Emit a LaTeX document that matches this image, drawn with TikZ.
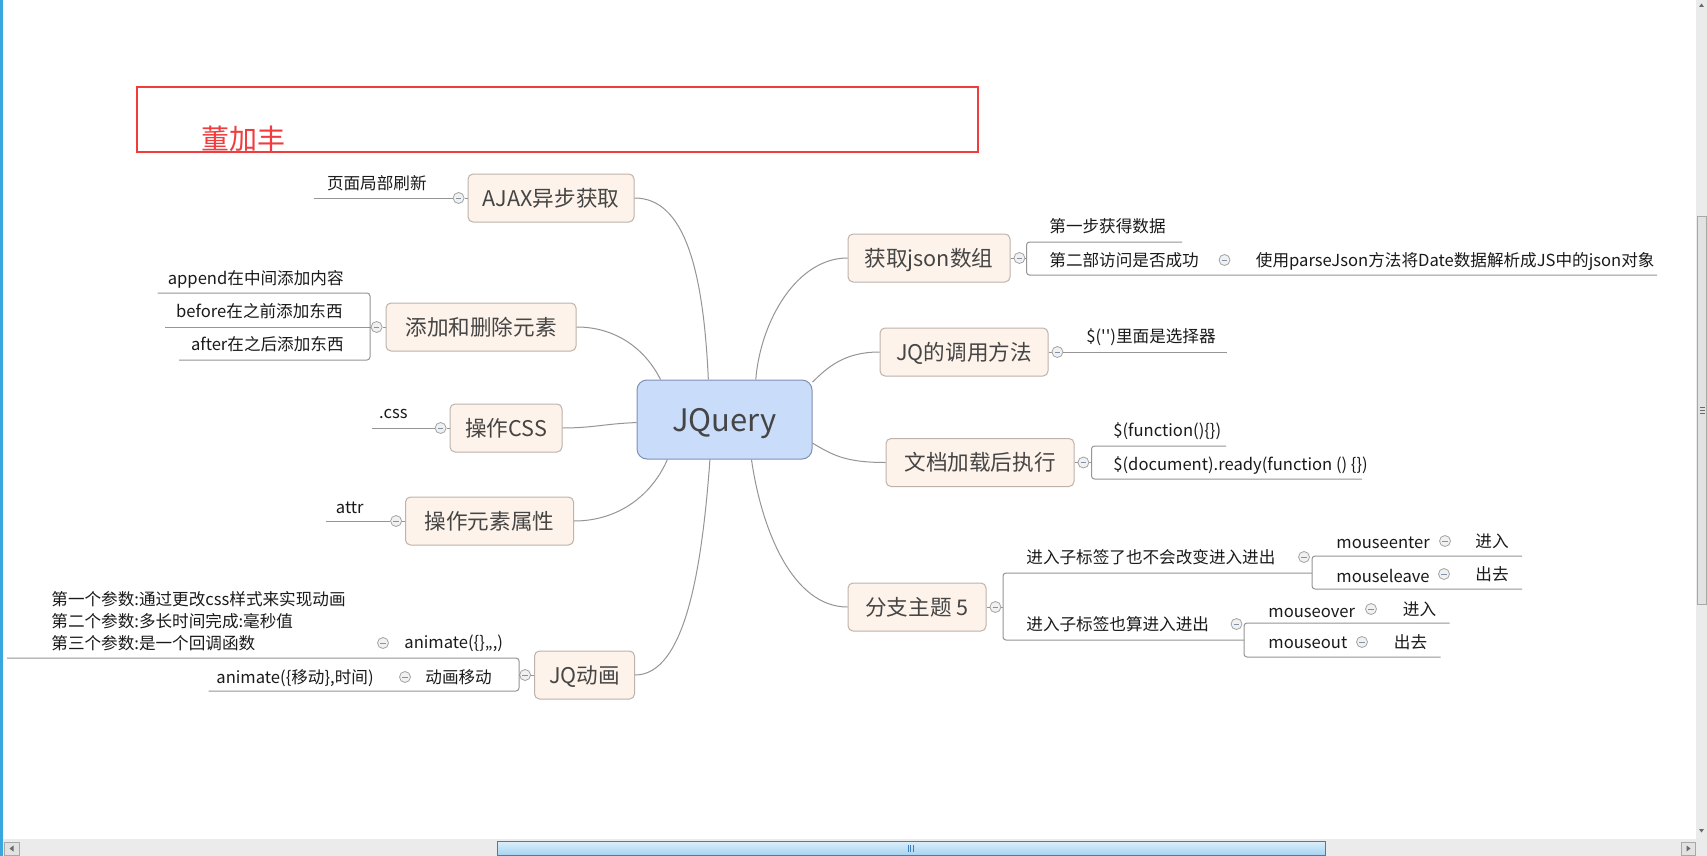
\documentclass[tikz,border=0pt]{standalone}
\usepackage{fontspec}
\setmainfont{Noto Sans CJK SC}
\usetikzlibrary{positioning,calc}
\definecolor{tfill}{HTML}{FDF3EA}
\definecolor{tdraw}{HTML}{BDB3AA}
\definecolor{tink}{HTML}{454545}
\definecolor{rfill}{HTML}{C9DCFA}
\definecolor{rdraw}{HTML}{7F90B2}
\definecolor{ink}{HTML}{1A1A1A}
\definecolor{lgray}{HTML}{959595}
\definecolor{fgray}{HTML}{A3A3A3}
\definecolor{ffill}{HTML}{F1F1F1}
\definecolor{fmin}{HTML}{8391AB}
\definecolor{redbox}{HTML}{F03C3C}
\definecolor{winblue}{HTML}{3AA6DF}
\definecolor{barbg}{HTML}{EBEBEB}
\definecolor{thumbtop}{HTML}{DCEFFB}
\definecolor{thumbbot}{HTML}{A6D4F0}
\definecolor{thumbdraw}{HTML}{3D7FB8}
\definecolor{btnline}{HTML}{A8A8A8}
\definecolor{btnfill}{HTML}{E2E2E2}
\definecolor{arrowc}{HTML}{6A6A6A}
\tikzset{
  topic/.style={draw=tdraw,fill=tfill,rounded corners=2.5pt,line width=0.5pt,text=tink,font=\fontsize{10.8}{13}\selectfont,inner sep=0pt,minimum height=24pt,text height=9.5pt,text depth=1.3pt},
  root/.style={topic,draw=rdraw,fill=rfill,rounded corners=5pt,font=\fontsize{15.5}{18}\selectfont,minimum width=87.5pt,minimum height=39.5pt,text height=13pt,text depth=1.5pt},
  leaf/.style={text=ink,font=\fontsize{8.3}{11}\selectfont,inner sep=0pt,text height=7.3pt,text depth=1pt},
  fold/.style={circle,draw=fgray,fill=ffill,line width=0.4pt,inner sep=0pt,minimum size=5.5pt,
    path picture={\draw[fmin,line width=0.4pt] ([xshift=-1.4pt]path picture bounding box.center) -- ([xshift=1.4pt]path picture bounding box.center);}},
  con/.style={draw=lgray,line width=0.5pt},
  ln/.style={con,rounded corners=1.5pt},
  btn/.style={draw=btnline,fill=btnfill,line width=0.4pt},
}
\begin{document}
\begin{tikzpicture}[x=0.5pt,y=-0.5pt]
\useasboundingbox (0,0) rectangle (1707,856);
\fill[white] (0,0) rectangle (1707,856);
\fill[winblue] (0,0) rectangle (3,856);
\fill[barbg] (3,839) rectangle (1707,856);
\fill[barbg] (1696,0) rectangle (1707,839);
\draw[thumbdraw,top color=thumbtop,bottom color=thumbbot,line width=0.5pt] (497.5,841) rectangle (1325,855);
\foreach \x in {908,910.5,913} \draw[thumbdraw,line width=0.4pt] (\x,845) -- (\x,852);
\draw[btn] (4,842) rectangle (19,855);
\draw[btn] (1681,842) rectangle (1695,855);
\fill[arrowc] (13.5,845.5) -- (9.5,848.5) -- (13.5,851.5) -- cycle;
\fill[arrowc] (1686.5,845.5) -- (1690.5,848.5) -- (1686.5,851.5) -- cycle;
\draw[btn] (1697.5,216) rectangle (1706.5,604);
\foreach \y in {407,410,413} \draw[arrowc,line width=0.4pt] (1700,\y) -- (1705,\y);
\fill[arrowc] (1699,7) -- (1704,7) -- (1701.5,3.5) -- cycle;
\fill[arrowc] (1699,829) -- (1704,829) -- (1701.5,832.5) -- cycle;

\draw[redbox,line width=0.6pt] (137,87) rectangle (978,152);
\node[text=redbox,font=\fontsize{14}{16}\selectfont,inner sep=0pt] (author) at (243,139) {董加丰};

\node[root] (jq) at (724.5,419.5) {JQuery};
\node[topic,minimum width=83pt] (ajax) at (551,198) {AJAX异步获取};
\node[topic,minimum width=95pt] (add) at (481,327) {添加和删除元素};
\node[topic,minimum width=56pt] (css) at (506,428) {操作CSS};
\node[topic,minimum width=84pt] (attr) at (489.5,521) {操作元素属性};
\node[topic,minimum width=50pt] (anim) at (584.5,675) {JQ动画};
\node[topic,minimum width=81pt] (json) at (929,258) {获取json数组};
\node[topic,minimum width=84pt] (call) at (964,352) {JQ的调用方法};
\node[topic,minimum width=94pt] (ready) at (980,462.5) {文档加载后执行};
\node[topic,minimum width=69pt] (br5) at (917,607) {分支主题 5};

\node[fold,left=1.5pt of ajax] (fajax) {};
\node[fold,left=1.5pt of add] (fadd) {};
\node[fold,left=1.5pt of css] (fcss) {};
\node[fold,left=1.5pt of attr] (fattr) {};
\node[fold,left=1.5pt of anim] (fanim) {};
\node[fold,right=1.5pt of json] (fjson) {};
\node[fold,right=1.5pt of call] (fcall) {};
\node[fold,right=1.5pt of ready] (fready) {};
\node[fold,right=1.5pt of br5] (fbr5) {};
\node[fold] (fanim1) at (383,643) {};
\node[fold] (fanim2) at (405,677) {};
\node[fold] (fjson2) at (1224.5,260) {};
\node[fold] (fb1) at (1304,557) {};
\node[fold] (fb1a) at (1445,541) {};
\node[fold] (fb1b) at (1444,574) {};
\node[fold] (fb2) at (1236.5,624) {};
\node[fold] (fb2a) at (1371,609) {};
\node[fold] (fb2b) at (1362,642) {};

\node[leaf,anchor=east] (ajax1) at (427,183) {页面局部刷新};
\node[leaf,anchor=east] (add1) at (344,278) {append在中间添加内容};
\node[leaf,anchor=east] (add2) at (343,311) {before在之前添加东西};
\node[leaf,anchor=east] (add3) at (344,344) {after在之后添加东西};
\node[leaf,anchor=east] (css1) at (408,412) {.css};
\node[leaf,anchor=east] (attr1) at (364,507) {attr};
\node[leaf,anchor=west] (anim1) at (404,642) {animate(\{\},,,)};
\node[leaf,anchor=west,align=left,text height=,text depth=] (anim1a) at (51,621) {第一个参数:通过更改css样式来实现动画\\第二个参数:多长时间完成:毫秒值\\第三个参数:是一个回调函数};
\node[leaf,anchor=west] (anim2) at (425,677) {动画移动};
\node[leaf,anchor=east] (anim2a) at (374,677) {animate(\{移动\},时间)};
\node[leaf,anchor=west] (json1) at (1049,226) {第一步获得数据};
\node[leaf,anchor=west] (json2) at (1049,260) {第二部访问是否成功};
\node[leaf,anchor=west] (json2a) at (1255.5,260) {使用parseJson方法将Date数据解析成JS中的json对象};
\node[leaf,anchor=west] (call1) at (1086,336) {\$(\textquotesingle\textquotesingle)里面是选择器};
\node[leaf,anchor=west] (ready1) at (1113,430) {\$(function()\{\})};
\node[leaf,anchor=west] (ready2) at (1113,464) {\$(document).ready(function () \{\})};
\node[leaf,anchor=west] (b1) at (1026,557) {进入子标签了也不会改变进入进出};
\node[leaf,anchor=west] (b1a) at (1336,541.7) {mouseenter};
\node[leaf,anchor=west] (b1ax) at (1475,541) {进入};
\node[leaf,anchor=west] (b1b) at (1336,575.7) {mouseleave};
\node[leaf,anchor=west] (b1bx) at (1475,574) {出去};
\node[leaf,anchor=west] (b2) at (1026,624) {进入子标签也算进入进出};
\node[leaf,anchor=west] (b2a) at (1268,610.7) {mouseover};
\node[leaf,anchor=west] (b2ax) at (1402.5,609) {进入};
\node[leaf,anchor=west] (b2b) at (1268,641.7) {mouseout};
\node[leaf,anchor=west] (b2bx) at (1393.5,642) {出去};

\draw[con] (jq.112.7) .. controls +(-5,-110) and +(50,0) .. (ajax.east);
\draw[con] (jq.148.5) .. controls +(-15,-30) and +(40,0) .. (add.east);
\draw[con] (jq.182.3) .. controls +(-30,1) and +(30,0) .. (css.east);
\draw[con] (jq.-145.5) .. controls +(-15,35) and +(45,0) .. (attr.east);
\draw[con] (jq.-110.2) .. controls +(-8,110) and +(50,0) .. (anim.east);
\draw[con] (jq.52.3) .. controls +(5,-60) and +(-50,0) .. (json.west);
\draw[con] (jq.23.2) .. controls +(15,-15) and +(-35,0) .. (call.west);
\draw[con] (jq.-15) .. controls +(20,12) and +(-40,0) .. (ready.west);
\draw[con] (jq.-56.1) .. controls +(10,70) and +(-55,0) .. (br5.west);

\coordinate (ajax1u) at (314,198);
\coordinate (add1u) at (157.5,293);
\coordinate (add2u) at (165,327);
\coordinate (add3u) at (179,360);
\coordinate (addk) at (370,327);
\coordinate (css1u) at (372,428);
\coordinate (attr1u) at (326,521);
\coordinate (anim1u) at (7,658);
\coordinate (anim2u) at (208.5,691);
\coordinate (animk) at (519,675);
\coordinate (json1u) at (1182,242);
\coordinate (json2u) at (1657,275);
\coordinate (jsonk) at (1026.5,258);
\coordinate (call1u) at (1227,352);
\coordinate (ready1u) at (1226,446);
\coordinate (ready2u) at (1362,479);
\coordinate (readyk) at (1091.5,462.5);
\coordinate (br5k) at (1003,607);
\coordinate (b1k) at (1312,573);
\coordinate (b2k) at (1244,640);
\coordinate (b1au) at (1522,556);
\coordinate (b1bu) at (1522,589);
\coordinate (b2au) at (1449.5,623);
\coordinate (b2bu) at (1440.5,657);

\draw[ln] (ajax) -- (fajax) -- (ajax1u);
\draw[ln] (add) -- (fadd) -- (add2u);
\draw[ln] (add1u) -- (add1u -| addk) -- (add3u -| addk) -- (add3u);
\draw[ln] (css) -- (fcss) -- (css1u);
\draw[ln] (attr) -- (fattr) -- (attr1u);
\draw[ln] (anim) -- (fanim) -- (animk);
\draw[ln] (anim1u) -- (anim1u -| animk) -- (anim2u -| animk) -- (anim2u);
\draw[ln] (json) -- (fjson) -- (jsonk);
\draw[ln] (json1u) -- (json1u -| jsonk) -- (json2u -| jsonk) -- (json2u);
\draw[ln] (call) -- (fcall) -- (call1u);
\draw[ln] (ready) -- (fready) -- (readyk);
\draw[ln] (ready1u) -- (ready1u -| readyk) -- (ready2u -| readyk) -- (ready2u);
\draw[ln] (br5) -- (fbr5) -- (br5k);
\draw[ln] (b1k) -- (b1k -| br5k) -- (b2k -| br5k) -- (b2k);
\draw[ln] (b1au) -- (b1au -| b1k) -- (b1bu -| b1k) -- (b1bu);
\draw[ln] (b2au) -- (b2au -| b2k) -- (b2bu -| b2k) -- (b2bu);
\end{tikzpicture}
\end{document}
